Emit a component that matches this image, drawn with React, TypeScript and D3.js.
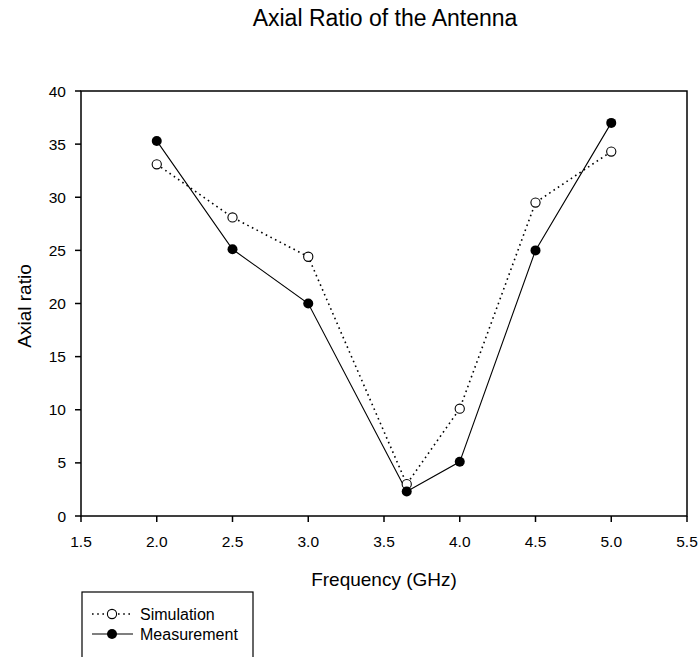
import React from "react";
import * as d3 from "d3";

const freqs = [2.0, 2.5, 3.0, 3.65, 4.0, 4.5, 5.0];
const simulation = [33.1, 28.1, 24.4, 3.0, 10.1, 29.5, 34.3];
const measurement = [35.3, 25.1, 20.0, 2.3, 5.1, 25.0, 37.0];
const xTicks = [1.5, 2.0, 2.5, 3.0, 3.5, 4.0, 4.5, 5.0, 5.5];
const yTicks = [0, 5, 10, 15, 20, 25, 30, 35, 40];

const W = 700, H = 657;
const L = 81, R = 687, T = 91, B = 516;
const font = "Arial, 'Liberation Sans', sans-serif";

export default function App() {
  const x = d3.scaleLinear().domain([1.5, 5.5]).range([L, R]);
  const y = d3.scaleLinear().domain([0, 40]).range([B, T]);
  const line = (vals: number[]) =>
    d3.line<number>().x((_, i) => x(freqs[i])).y((v) => y(v))(vals) || "";

  return (
    <svg width={W} height={H} style={{ position: "absolute", left: 0, top: 0, background: "#fff" }}>
      <rect x={0} y={0} width={W} height={H} fill="#fff" />
      <text x={385} y={26} textAnchor="middle" fontFamily={font} fontSize={23}>
        Axial Ratio of the Antenna
      </text>
      <rect x={L} y={T} width={R - L} height={B - T} fill="none" stroke="#000" strokeWidth={1.5} />
      {xTicks.map((t) => (
        <g key={"x" + t}>
          <line x1={x(t)} x2={x(t)} y1={B} y2={B + 6} stroke="#000" strokeWidth={1.5} />
          <text x={x(t)} y={547} textAnchor="middle" fontFamily={font} fontSize={15.5}>
            {t.toFixed(1)}
          </text>
        </g>
      ))}
      {yTicks.map((t) => (
        <g key={"y" + t}>
          <line x1={L - 6} x2={L} y1={y(t)} y2={y(t)} stroke="#000" strokeWidth={1.5} />
          <text x={66} y={y(t) + 5.5} textAnchor="end" fontFamily={font} fontSize={15.5}>
            {t}
          </text>
        </g>
      ))}
      <text x={384} y={586} textAnchor="middle" fontFamily={font} fontSize={19}>
        Frequency (GHz)
      </text>
      <text
        transform={`translate(31,306) rotate(-90)`}
        textAnchor="middle"
        fontFamily={font}
        fontSize={19}
      >
        Axial ratio
      </text>
      <path d={line(simulation)} fill="none" stroke="#000" strokeWidth={1.6} strokeDasharray="1.6,3.6" />
      <path d={line(measurement)} fill="none" stroke="#000" strokeWidth={1.1} />
      {simulation.map((v, i) => (
        <circle key={"s" + i} cx={x(freqs[i])} cy={y(v)} r={4.6} fill="#fff" stroke="#000" strokeWidth={1.1} />
      ))}
      {measurement.map((v, i) => (
        <circle key={"m" + i} cx={x(freqs[i])} cy={y(v)} r={5} fill="#000" />
      ))}
      <rect x={82} y={592} width={171} height={80} fill="#fff" stroke="#000" strokeWidth={1.2} />
      <line x1={92} x2={133} y1={614} y2={614} stroke="#000" strokeWidth={1.6} strokeDasharray="1.6,3.6" />
      <circle cx={112} cy={614} r={4.6} fill="#fff" stroke="#000" strokeWidth={1.1} />
      <text x={140} y={620} fontFamily={font} fontSize={16}>Simulation</text>
      <line x1={92} x2={133} y1={634} y2={634} stroke="#000" strokeWidth={1.1} />
      <circle cx={112} cy={634} r={5} fill="#000" />
      <text x={140} y={640} fontFamily={font} fontSize={16}>Measurement</text>
    </svg>
  );
}
